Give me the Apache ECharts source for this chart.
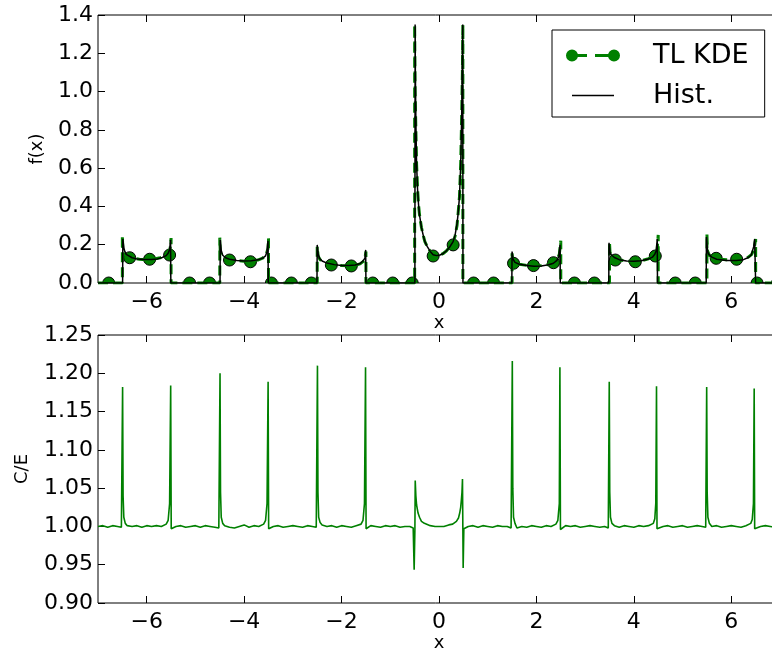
<!DOCTYPE html>
<html>
<head>
<meta charset="utf-8">
<script src="https://cdn.jsdelivr.net/npm/echarts@6/dist/echarts.min.js"></script>
<style>
html,body{margin:0;padding:0;background:#fff;}
#chart{width:772px;height:653px;}
</style>
</head>
<body>
<div id="chart"></div>
<script>
// ---- tick values ----
const xTicks = [-6, -4, -2, 0, 2, 4, 6];
const fTicks = [0, 0.2, 0.4, 0.6, 0.8, 1.0, 1.2, 1.4];
const ceTicks = [0.90, 0.95, 1.00, 1.05, 1.10, 1.15, 1.20, 1.25];

// ---- top panel: histogram line [x, f(x)] ----
const histPoints = [
  [-7.0,0],[-6.495,0],[-6.49,0.23],[-6.47,0.185],[-6.45,0.165],[-6.42,0.15],[-6.38,0.14],[-6.3,0.132],[-6.2,0.126],[-6.05,0.123],[-5.9,0.123],[-5.78,0.126],[-5.68,0.133],[-5.6,0.143],[-5.56,0.155],[-5.53,0.175],[-5.51,0.225],[-5.505,0],
  [-4.495,0],[-4.49,0.225],[-4.47,0.17],[-4.44,0.145],[-4.38,0.132],[-4.3,0.124],[-4.15,0.118],[-4.0,0.115],[-3.85,0.116],[-3.72,0.121],[-3.62,0.13],[-3.56,0.142],[-3.53,0.165],[-3.51,0.22],[-3.505,0],
  [-2.505,0],[-2.5,0.199],[-2.48,0.15],[-2.45,0.128],[-2.4,0.115],[-2.3,0.104],[-2.15,0.096],[-2.0,0.092],[-1.85,0.091],[-1.72,0.094],[-1.62,0.102],[-1.56,0.115],[-1.52,0.13],[-1.505,0.173],[-1.5,0],
  [-0.495,0],[-0.49,1.35],[-0.485,1.1],[-0.475,0.85],[-0.46,0.62],[-0.44,0.49],[-0.42,0.41],[-0.40,0.356],[-0.36,0.29],[-0.32,0.245],[-0.29,0.216],[-0.24,0.19],[-0.18,0.165],[-0.12,0.148],[-0.05,0.143],[0.02,0.146],[0.08,0.153],[0.15,0.167],[0.22,0.188],[0.29,0.216],[0.33,0.25],[0.37,0.31],[0.39,0.356],[0.42,0.45],[0.445,0.617],[0.466,0.88],[0.48,1.2],[0.487,1.35],[0.492,0],
  [1.495,0],[1.5,0.164],[1.52,0.125],[1.56,0.108],[1.65,0.098],[1.8,0.091],[1.95,0.088],[2.1,0.089],[2.25,0.095],[2.35,0.103],[2.42,0.118],[2.46,0.14],[2.485,0.2],[2.49,0],
  [3.485,0],[3.49,0.21],[3.51,0.16],[3.54,0.146],[3.6,0.133],[3.7,0.122],[3.85,0.115],[4.0,0.113],[4.15,0.116],[4.3,0.125],[4.38,0.135],[4.43,0.15],[4.46,0.17],[4.48,0.23],[4.485,0],
  [5.485,0],[5.49,0.24],[5.51,0.17],[5.53,0.152],[5.6,0.135],[5.7,0.124],[5.9,0.117],[6.1,0.118],[6.25,0.122],[6.35,0.133],[6.41,0.146],[6.46,0.19],[6.48,0.23],[6.5,0],[7.0,0]
];

// ---- top panel: TL KDE curve [x, f(x)] ----
const kdePoints = [
  [-7.0,0],[-6.5,0],[-6.5,0.25],[-6.49,0.17],[-6.46,0.15],[-6.4,0.137],[-6.3,0.13],[-6.15,0.124],[-6.0,0.122],[-5.85,0.125],[-5.72,0.132],[-5.62,0.142],[-5.56,0.158],[-5.52,0.18],[-5.5,0.235],[-5.5,0],
  [-4.5,0],[-4.5,0.237],[-4.49,0.16],[-4.45,0.14],[-4.38,0.13],[-4.3,0.123],[-4.15,0.117],[-4.0,0.114],[-3.85,0.115],[-3.72,0.12],[-3.62,0.13],[-3.55,0.148],[-3.51,0.18],[-3.5,0.234],[-3.5,0],
  [-2.5,0],[-2.5,0.19],[-2.48,0.14],[-2.44,0.122],[-2.38,0.11],[-2.3,0.102],[-2.15,0.095],[-2.0,0.091],[-1.85,0.09],[-1.72,0.093],[-1.62,0.1],[-1.56,0.112],[-1.52,0.13],[-1.5,0.165],[-1.5,0],
  [-0.5,0],[-0.5,1.35],[-0.49,1.0],[-0.475,0.8],[-0.46,0.62],[-0.44,0.49],[-0.42,0.41],[-0.40,0.356],[-0.36,0.29],[-0.32,0.245],[-0.29,0.216],[-0.24,0.19],[-0.18,0.165],[-0.12,0.148],[-0.05,0.143],[0.02,0.146],[0.08,0.153],[0.15,0.167],[0.22,0.188],[0.29,0.21],[0.33,0.245],[0.37,0.3],[0.39,0.356],[0.42,0.45],[0.445,0.617],[0.466,0.88],[0.48,1.1],[0.49,1.35],[0.49,0],
  [1.5,0],[1.5,0.155],[1.51,0.125],[1.55,0.108],[1.65,0.098],[1.8,0.092],[1.95,0.09],[2.1,0.091],[2.25,0.097],[2.35,0.106],[2.42,0.12],[2.47,0.15],[2.5,0.221],[2.5,0],
  [3.5,0],[3.5,0.213],[3.51,0.16],[3.55,0.142],[3.62,0.128],[3.72,0.12],[3.85,0.114],[4.0,0.112],[4.15,0.116],[4.3,0.127],[4.4,0.138],[4.45,0.15],[4.48,0.18],[4.5,0.251],[4.5,0],
  [5.5,0],[5.5,0.256],[5.51,0.17],[5.55,0.145],[5.62,0.132],[5.7,0.126],[5.9,0.121],[6.1,0.122],[6.25,0.126],[6.35,0.135],[6.42,0.15],[6.47,0.18],[6.5,0.23],[6.5,0],[7.0,0]
];

// ---- top panel: TL KDE markers [x, f(x)] ----
const kdeMarkers = [
  [-6.78,0],[-6.35,0.132],[-5.94,0.124],[-5.53,0.146],[-5.12,0],[-4.71,0],[-4.30,0.12],[-3.87,0.111],[-3.44,0],[-3.03,0],[-2.62,0],[-2.21,0.094],[-1.80,0.089],[-1.36,0],[-0.95,0],[-0.55,0],[-0.12,0.141],[0.29,0.199],[0.71,0],[1.12,0],[1.53,0.103],[1.94,0.091],[2.35,0.106],[2.78,0],[3.19,0],[3.62,0.12],[4.03,0.111],[4.44,0.141],[4.85,0],[5.26,0],[5.69,0.129],[6.11,0.124],[6.53,0],[6.95,0]
];

// ---- bottom panel: C/E ratio [x, C/E] ----
const ratioPoints = [
  [-7.00,1.000],[-6.90,1.001],[-6.80,0.999],[-6.70,1.001],[-6.60,1.000],[-6.52,0.999],[-6.505,0.997],[-6.495,1.182],[-6.485,1.040],[-6.47,1.012],[-6.44,1.004],[-6.40,1.001],[-6.30,1.000],[-6.20,1.001],[-6.10,0.999],[-6.00,1.001],[-5.90,1.000],[-5.80,1.001],[-5.70,1.000],[-5.60,1.003],[-5.56,1.008],[-5.53,1.030],[-5.508,1.184],[-5.497,0.997],[-5.48,0.999],
  [-5.40,1.000],[-5.30,1.001],[-5.20,0.999],[-5.10,1.000],[-5.00,1.001],[-4.90,0.999],[-4.80,1.001],[-4.70,1.000],[-4.60,0.999],[-4.52,0.998],[-4.505,0.996],[-4.495,1.200],[-4.485,1.045],[-4.47,1.012],[-4.44,1.004],[-4.40,1.001],[-4.30,0.999],[-4.20,0.998],[-4.10,1.000],[-4.00,1.002],[-3.90,0.999],[-3.80,1.001],[-3.70,1.000],[-3.60,1.003],[-3.56,1.008],[-3.53,1.030],[-3.508,1.189],[-3.497,0.997],[-3.48,0.999],
  [-3.40,1.000],[-3.30,1.001],[-3.20,0.999],[-3.10,1.000],[-3.00,1.001],[-2.90,1.000],[-2.80,0.999],[-2.70,1.001],[-2.60,1.000],[-2.52,0.999],[-2.505,0.997],[-2.495,1.210],[-2.485,1.045],[-2.47,1.012],[-2.44,1.005],[-2.40,1.002],[-2.30,1.000],[-2.20,1.001],[-2.10,0.999],[-2.00,1.001],[-1.90,1.000],[-1.80,0.999],[-1.70,1.001],[-1.60,1.003],[-1.56,1.008],[-1.53,1.030],[-1.508,1.208],[-1.497,0.997],[-1.48,0.999],
  [-1.40,1.001],[-1.30,1.000],[-1.20,0.999],[-1.10,1.001],[-1.00,1.000],[-0.90,1.001],[-0.80,0.999],[-0.70,1.000],[-0.60,1.000],[-0.53,0.998],[-0.515,0.997],[-0.51,0.9435],[-0.495,0.995],[-0.488,1.060],[-0.475,1.040],[-0.46,1.028],[-0.43,1.0175],[-0.40,1.012],[-0.36,1.0066],[-0.30,1.004],[-0.26,1.0023],[-0.18,1.001],[-0.08,1.000],[0.00,1.000],[0.10,1.000],[0.20,1.002],[0.28,1.003],[0.357,1.0066],[0.40,1.011],[0.425,1.0175],[0.445,1.025],[0.46,1.035],[0.472,1.045],[0.482,1.062],[0.49,0.995],[0.496,0.9457],[0.51,0.997],[0.53,0.999],
  [0.60,1.000],[0.70,1.001],[0.80,0.999],[0.90,1.001],[1.00,1.000],[1.10,0.999],[1.20,1.001],[1.30,1.000],[1.40,1.000],[1.48,0.998],[1.495,0.996],[1.505,1.216],[1.515,1.050],[1.53,1.012],[1.56,1.004],[1.60,0.998],[1.70,1.000],[1.80,0.999],[1.90,1.001],[2.00,1.000],[2.10,0.999],[2.20,1.001],[2.30,1.000],[2.40,1.003],[2.44,1.008],[2.47,1.030],[2.482,1.208],[2.493,0.996],[2.51,0.998],
  [2.60,1.001],[2.70,1.000],[2.80,1.001],[2.90,0.999],[3.00,1.000],[3.10,1.001],[3.20,1.000],[3.30,0.999],[3.40,1.000],[3.475,0.998],[3.485,0.996],[3.495,1.189],[3.505,1.045],[3.52,1.012],[3.55,1.004],[3.60,1.001],[3.70,0.999],[3.80,1.001],[3.90,1.000],[4.00,0.999],[4.10,1.001],[4.20,1.000],[4.30,1.001],[4.40,1.004],[4.43,1.010],[4.45,1.030],[4.465,1.183],[4.475,0.997],[4.49,0.999],
  [4.60,1.000],[4.70,1.001],[4.80,0.999],[4.90,1.000],[5.00,1.001],[5.10,0.999],[5.20,1.000],[5.30,1.001],[5.40,1.000],[5.475,0.999],[5.485,0.997],[5.495,1.182],[5.505,1.045],[5.52,1.012],[5.55,1.004],[5.60,1.000],[5.70,1.001],[5.80,0.999],[5.90,1.000],[6.00,1.001],[6.10,1.000],[6.20,0.999],[6.30,1.001],[6.40,1.004],[6.43,1.009],[6.455,1.030],[6.47,1.180],[6.48,0.997],[6.50,0.999],
  [6.60,1.000],[6.70,1.001],[6.80,1.000],[6.90,0.999],[7.00,1.000]
];

const FONT = 'DejaVu Sans';
const GREEN = '#008000';
const minus = v => (v < 0 ? '\u2212' + Math.abs(v) : String(v));

const kdeIcon = 'path://M0,0L0,0M82,12L82,12' +
  'M0,6A6,6,0,1,1,12,6A6,6,0,1,1,0,6Z' +
  'M11,4.6L21,4.6L21,7.4L11,7.4Z' +
  'M29,4.6L43,4.6L43,7.4L29,7.4Z' +
  'M42,6A6,6,0,1,1,54,6A6,6,0,1,1,42,6Z';
const histIcon = 'path://M0,0L0,0M82,12L82,12M6,5.2L48,5.2L48,6.8L6,6.8Z';

function xAxisDef(gridIndex, bottom) {
  return {
    type: 'value', gridIndex: gridIndex, position: bottom ? 'bottom' : 'top',
    min: -7, max: 7, splitNumber: 7,
    axisLine: { show: false, onZero: false },
    splitLine: { show: false },
    axisTick: { show: true, inside: true, length: 7, customValues: xTicks, lineStyle: { color: '#000', width: 1 } },
    axisLabel: bottom ? { show: true, customValues: xTicks, formatter: minus, fontSize: 22, fontFamily: FONT, color: '#000', margin: 8 } : { show: false },
    name: bottom ? 'x' : '', nameLocation: 'middle', nameGap: 29,
    nameTextStyle: { fontSize: 18, fontFamily: FONT, color: '#000' }
  };
}
function yAxisDef(gridIndex, left, min, max, ticks, dec, name, gap) {
  return {
    type: 'value', gridIndex: gridIndex, position: left ? 'left' : 'right',
    min: min, max: max,
    axisLine: { show: false, onZero: false },
    splitLine: { show: false },
    axisTick: { show: true, inside: true, length: 7, customValues: ticks, lineStyle: { color: '#000', width: 1 } },
    axisLabel: left ? { show: true, customValues: ticks, formatter: v => v.toFixed(dec), fontSize: 22, fontFamily: FONT, color: '#000', margin: 5 } : { show: false },
    name: left ? name : '', nameLocation: 'middle', nameGap: gap,
    nameTextStyle: { fontSize: 18, fontFamily: FONT, color: '#000' }
  };
}

const chart = echarts.init(document.getElementById('chart'), null, { renderer: 'canvas' });
chart.setOption({
  animation: false,
  backgroundColor: '#fff',
  textStyle: { fontFamily: FONT },
  grid: [
    { left: 98, top: 15, right: -8, height: 268, show: true, borderColor: '#000', borderWidth: 1, backgroundColor: 'transparent', outerBoundsMode: 'none', containLabel: false },
    { left: 98, top: 335, right: -8, height: 268, show: true, borderColor: '#000', borderWidth: 1, backgroundColor: 'transparent', outerBoundsMode: 'none', containLabel: false }
  ],
  xAxis: [xAxisDef(0, true), xAxisDef(0, false), xAxisDef(1, true), xAxisDef(1, false)],
  yAxis: [
    yAxisDef(0, true, 0, 1.4, fTicks, 1, 'f(x)', 52),
    yAxisDef(0, false, 0, 1.4, fTicks, 1, '', 0),
    yAxisDef(1, true, 0.90, 1.25, ceTicks, 2, 'C/E', 67),
    yAxisDef(1, false, 0.90, 1.25, ceTicks, 2, '', 0)
  ],
  legend: {
    orient: 'vertical', left: 552, top: 30,
    padding: [12, 16, 8, 14], itemGap: 13,
    itemWidth: 82, itemHeight: 12,
    borderColor: '#000', borderWidth: 1, backgroundColor: '#fff', borderRadius: 0,
    textStyle: { fontSize: 27, fontFamily: FONT, color: '#000' },
    data: [
      { name: 'TL KDE', icon: kdeIcon, itemStyle: { color: GREEN, borderWidth: 0 } },
      { name: 'Hist.', icon: histIcon, itemStyle: { color: '#000', borderWidth: 0 } }
    ]
  },
  series: [
    {
      type: 'line', name: 'TL KDE', xAxisIndex: 0, yAxisIndex: 0,
      data: kdePoints, symbol: 'none', showSymbol: false, clip: true,
      lineStyle: { color: GREEN, width: 3, type: [10, 5] }, itemStyle: { color: GREEN }
    },
    {
      type: 'custom', name: 'TL KDE', xAxisIndex: 0, yAxisIndex: 0, clip: true,
      data: kdeMarkers,
      renderItem: function (params, api) {
        const p = api.coord([api.value(0), api.value(1)]);
        return { type: 'circle', shape: { cx: p[0], cy: p[1], r: 6 }, style: { fill: GREEN, stroke: '#000', lineWidth: 1 } };
      }
    },
    {
      type: 'line', name: 'Hist.', xAxisIndex: 0, yAxisIndex: 0,
      data: histPoints, symbol: 'none', showSymbol: false, clip: true,
      lineStyle: { color: '#000', width: 1.5 }, itemStyle: { color: '#000' }
    },
    {
      type: 'line', name: 'C/E', xAxisIndex: 2, yAxisIndex: 2,
      data: ratioPoints, symbol: 'none', showSymbol: false, clip: true,
      lineStyle: { color: GREEN, width: 1.6 }, itemStyle: { color: GREEN }
    }
  ]
});
</script>
</body>
</html>
